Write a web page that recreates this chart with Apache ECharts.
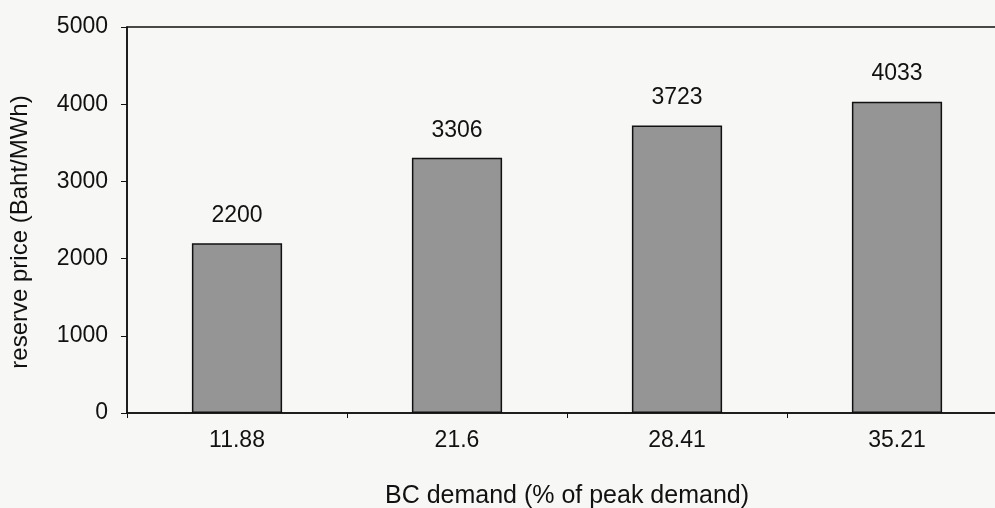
<!DOCTYPE html>
<html>
<head>
<meta charset="utf-8">
<script src="https://cdn.jsdelivr.net/npm/echarts@6/dist/echarts.min.js"></script>
<style>
html,body{margin:0;padding:0;background:#f7f7f5;}
#c{width:995px;height:508px;}
</style>
</head>
<body>
<div id="c"></div>
<script>
var categories = ['11.88', '21.6', '28.41', '35.21'];
var reservePrice = [2200, 3306, 3723, 4033];
var yTicks = [0, 1000, 2000, 3000, 4000, 5000];

var chart = echarts.init(document.getElementById('c'));
var font = 'Liberation Sans, Arial, sans-serif';
chart.setOption({
  backgroundColor: '#f7f7f5',
  animation: false,
  grid: {left: 127, right: -12, top: 27, bottom: 95, containLabel: false, outerBoundsMode: 'none',
    show: true, borderColor: '#111', borderWidth: 1.5, backgroundColor: 'transparent'},
  xAxis: {
    type: 'category',
    data: categories,
    name: 'BC demand (% of peak demand)',
    nameLocation: 'middle',
    nameGap: 71,
    nameTextStyle: {fontFamily: font, fontSize: 25, color: '#111'},
    axisLine: {lineStyle: {color: '#111', width: 1.5}},
    axisTick: {show: true, length: 5, lineStyle: {color: '#111'}},
    axisLabel: {fontFamily: font, fontSize: 23, color: '#111', margin: 16}
  },
  yAxis: {
    type: 'value',
    min: 0, max: 5000, interval: 1000,
    name: 'reserve price (Baht/MWh)',
    nameLocation: 'middle',
    nameGap: 95,
    nameTextStyle: {fontFamily: font, fontSize: 24, color: '#111', padding: [0, 24, 0, 0]},
    axisLine: {show: true, lineStyle: {color: '#111', width: 1.5}},
    axisTick: {show: true, length: 6, lineStyle: {color: '#111'}},
    splitLine: {show: false},
    axisLabel: {fontFamily: font, fontSize: 23, color: '#111', margin: 19,
      formatter: function (v) { return yTicks.indexOf(v) >= 0 ? String(v) : ''; }}
  },
  series: [{
    type: 'bar',
    data: reservePrice,
    barWidth: '41%',
    itemStyle: {color: '#959595', borderColor: '#111', borderWidth: 1.5},
    label: {show: true, position: 'top', distance: 16, fontFamily: font, fontSize: 23, color: '#111'}
  }]
});
</script>
</body>
</html>
